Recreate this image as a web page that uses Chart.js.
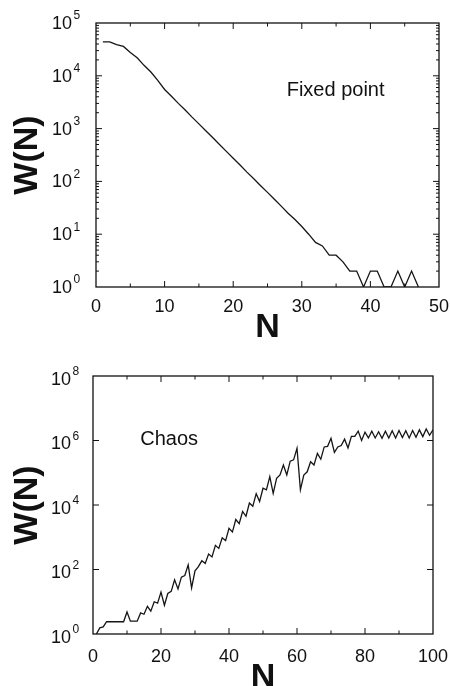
<!DOCTYPE html>
<html>
<head>
<meta charset="utf-8">
<title>W(N): fixed point and chaos</title>
<script src="https://cdn.jsdelivr.net/npm/chart.js@4.4.1/dist/chart.umd.min.js"></script>
<style>
  html, body { margin: 0; padding: 0; background: #fff; }
  body { width: 450px; height: 686px; position: relative; overflow: hidden; }
  canvas { position: absolute; left: 0; }
  #fixed-chart { top: 0; }
  #chaos-chart { top: 343px; }
</style>
</head>
<body>
<canvas id="fixed-chart" width="450" height="343"></canvas>
<canvas id="chaos-chart" width="450" height="343"></canvas>
<script>
// ========================================
// DATA
// ========================================

// upper panel: fixed point
const fixedN = [1, 2, 3, 4, 5, 6, 7, 8, 9, 10, 11, 12, 13, 14, 15, 16, 17, 18, 19, 20,
    21, 22, 23, 24, 25, 26, 27, 28, 29, 30, 31, 32, 33, 34, 35, 36, 37, 38, 39, 40,
    41, 42, 43, 44, 45, 46, 47];
const fixedW = [44000, 44000, 39000, 36000, 27500, 22000, 15800, 11800, 8200, 5500,
    4100, 3000, 2250, 1650, 1230, 910, 680, 500, 370, 275,
    205, 150, 112, 83, 62, 46, 34, 25, 19, 14,
    10, 7, 6, 4, 4, 3, 2, 2, 1, 2,
    2, 1, 1, 2, 1, 2, 1];
const fixedXTicks = [0, 10, 20, 30, 40, 50];
const fixedYExps = [0, 1, 2, 3, 4, 5];

// lower panel: chaos
const chaosN = [1, 2, 3, 4, 5, 6, 7, 8, 9, 10, 11, 12, 13, 14, 15, 16, 17, 18, 19, 20,
    21, 22, 23, 24, 25, 26, 27, 28, 29, 30, 31, 32, 33, 34, 35, 36, 37, 38, 39, 40,
    41, 42, 43, 44, 45, 46, 47, 48, 49, 50, 51, 52, 53, 54, 55, 56, 57, 58, 59, 60,
    61, 62, 63, 64, 65, 66, 67, 68, 69, 70, 71, 72, 73, 74, 75, 76, 77, 78, 79, 80,
    81, 82, 83, 84, 85, 86, 87, 88, 89, 90, 91, 92, 93, 94, 95, 96, 97, 98, 99, 100];
const chaosW = [1, 1.55, 1.66, 2.4, 2.4, 2.4, 2.4, 2.4, 2.4, 4.8,
    2.5, 2.5, 2.5, 4.5, 4.1, 7.2, 5.1, 10, 9.1, 20,
    7.8, 18, 21, 48, 25, 58, 65, 140, 27, 91,
    123, 186, 155, 300, 245, 560, 450, 960, 790, 1900,
    1450, 3550, 2630, 6300, 4470, 11500, 9100, 22400, 12900, 33100,
    29500, 75900, 22900, 67600, 85100, 174000, 85100, 229000, 251000, 575000,
    29500, 85100, 107000, 219000, 174000, 398000, 263000, 631000, 660000, 1170000,
    430000, 631000, 700000, 1100000, 590000, 1350000, 1350000, 1950000, 1000000, 1820000,
    1200000, 1950000, 1200000, 1860000, 1170000, 1950000, 1200000, 2000000, 1200000, 2040000,
    1230000, 2000000, 1200000, 2040000, 1260000, 2140000, 1320000, 2290000, 1450000, 2140000];
const chaosXTicks = [0, 20, 40, 60, 80, 100];
const chaosYExps = [0, 2, 4, 6, 8];

// ========================================
// FRAME, INWARD TICKS, 10^n LABELS, NOTE
// ========================================

Chart.defaults.font.family = '"Liberation Sans", Arial, sans-serif';
Chart.defaults.color = '#111';

const framePlugin = {
    id: 'frame',
    afterDatasetsDraw(chart, args, opts) {
        const { ctx, chartArea: a } = chart;
        const x = chart.scales.x, y = chart.scales.y;
        ctx.save();
        ctx.strokeStyle = '#111';
        ctx.lineWidth = 1.3;
        ctx.strokeRect(a.left, a.top, a.right - a.left, a.bottom - a.top);

        // x ticks (major + minor), on bottom and top edge, pointing inward
        ctx.lineWidth = 1;
        ctx.beginPath();
        for (let v = x.min + opts.xMinor; v < x.max; v += opts.xMinor) {
            const px = x.getPixelForValue(v);
            const len = (v % opts.xMajor === 0) ? 6 : 3.5;
            ctx.moveTo(px, a.bottom); ctx.lineTo(px, a.bottom - len);
            ctx.moveTo(px, a.top); ctx.lineTo(px, a.top + len);
        }
        // y ticks on left and right edge
        const exps = opts.exps;
        const step = exps[1] - exps[0];
        for (let e = exps[0]; e <= exps[exps.length - 1]; e += 1) {
            const major = (e - exps[0]) % step === 0;
            if (e > exps[0] && e < exps[exps.length - 1] && (major || opts.oddDecades)) {
                const py = y.getPixelForValue(Math.pow(10, e));
                const len = major ? 6 : 3.5;
                ctx.moveTo(a.left, py); ctx.lineTo(a.left + len, py);
                ctx.moveTo(a.right, py); ctx.lineTo(a.right - len, py);
            }
            if (opts.yMinor && e < exps[exps.length - 1]) {
                for (let m = 2; m <= 9; m++) {
                    const py = y.getPixelForValue(m * Math.pow(10, e));
                    ctx.moveTo(a.left, py); ctx.lineTo(a.left + 3, py);
                    ctx.moveTo(a.right, py); ctx.lineTo(a.right - 3, py);
                }
            }
        }
        ctx.stroke();

        // y labels as 10 with a raised exponent
        ctx.fillStyle = '#111';
        ctx.textBaseline = 'middle';
        exps.forEach(e => {
            const py = y.getPixelForValue(Math.pow(10, e)) + opts.labelDy;
            const right = a.left - opts.labelGap;
            ctx.font = '18px "Liberation Sans", Arial, sans-serif';
            ctx.textAlign = 'right';
            ctx.fillText('10', right, py + 1);
            ctx.font = '12px "Liberation Sans", Arial, sans-serif';
            ctx.textAlign = 'left';
            ctx.fillText(String(e), right + 1.5, py - 7);
        });

        // panel note
        const note = opts.note;
        ctx.font = '20px "Liberation Sans", Arial, sans-serif';
        ctx.textAlign = 'left';
        ctx.textBaseline = 'alphabetic';
        ctx.fillText(note.text, x.getPixelForValue(note.n), y.getPixelForValue(note.w));
        ctx.restore();
    }
};

function makePanel(canvasId, nValues, wValues, xTicks, yExps, cfg) {
    const ctx = document.getElementById(canvasId).getContext('2d');
    const points = nValues.map((n, i) => ({ x: n, y: wValues[i] }));
    return new Chart(ctx, {
        type: 'line',
        data: {
            datasets: [{
                data: points,
                borderColor: '#151515',
                borderWidth: 1.3,
                pointRadius: 0,
                tension: 0,
                fill: false
            }]
        },
        options: {
            responsive: false,
            animation: false,
            events: [],
            layout: { padding: { top: cfg.top, right: cfg.right, left: 0, bottom: 0 } },
            plugins: {
                legend: { display: false },
                tooltip: { enabled: false },
                frame: {
                    xMinor: cfg.xMinor,
                    xMajor: xTicks[1] - xTicks[0],
                    exps: yExps,
                    yMinor: cfg.yMinor,
                    oddDecades: false,
                    labelGap: cfg.labelGap,
                    labelDy: cfg.labelDy,
                    note: cfg.note
                }
            },
            scales: {
                x: {
                    type: 'linear',
                    min: xTicks[0],
                    max: xTicks[xTicks.length - 1],
                    afterBuildTicks: s => { s.ticks = xTicks.map(v => ({ value: v })); },
                    afterFit: s => {
                        s.height = cfg.xHeight;
                        // keep the edge labels from pulling the plot area in
                        s.paddingLeft = 0;
                        s.paddingRight = 0;
                    },
                    grid: { display: false, drawTicks: false },
                    border: { display: false },
                    ticks: {
                        font: { size: 18 },
                        color: '#111',
                        padding: cfg.xLabelPad,
                        maxRotation: 0,
                        autoSkip: false
                    },
                    title: {
                        display: true,
                        text: 'N',
                        color: '#111',
                        font: { size: 34, weight: 'bold', lineHeight: cfg.nLineHeight },
                        padding: 0
                    }
                },
                y: {
                    type: 'logarithmic',
                    min: Math.pow(10, yExps[0]),
                    max: Math.pow(10, yExps[yExps.length - 1]),
                    afterFit: s => { s.width = cfg.yWidth; },
                    grid: { display: false, drawTicks: false },
                    border: { display: false },
                    ticks: { display: false },
                    title: {
                        display: true,
                        text: 'W(N)',
                        color: '#111',
                        font: { size: 34, weight: 'bold', lineHeight: 1 },
                        padding: { top: 11, bottom: 0 }
                    }
                }
            }
        },
        plugins: [framePlugin]
    });
}

// upper panel
makePanel('fixed-chart', fixedN, fixedW, fixedXTicks, fixedYExps, {
    top: 23, right: 11, yWidth: 96, xHeight: 56,
    xMinor: 5, yMinor: true,
    xLabelPad: 9, nLineHeight: 0.9,
    labelGap: 24, labelDy: 0,
    note: { text: 'Fixed point', n: 27.8, w: 4200 }
});

// lower panel
makePanel('chaos-chart', chaosN, chaosW, chaosXTicks, chaosYExps, {
    top: 33, right: 17, yWidth: 93, xHeight: 52,
    xMinor: 10, yMinor: false,
    xLabelPad: 12, nLineHeight: 0.5,
    labelGap: 22, labelDy: 3,
    note: { text: 'Chaos', n: 13.9, w: 710000 }
});
</script>
</body>
</html>
